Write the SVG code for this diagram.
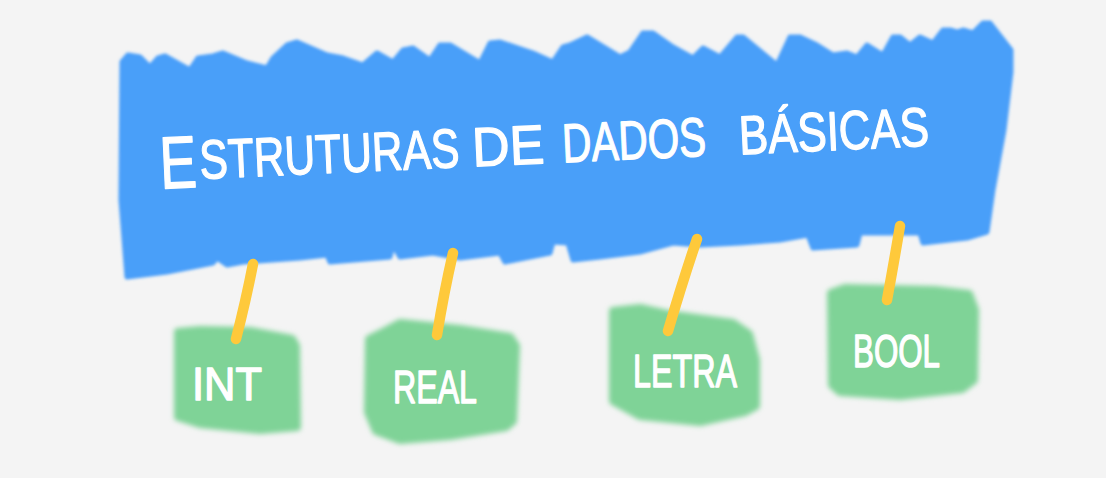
<svg xmlns="http://www.w3.org/2000/svg" width="1106" height="478" viewBox="0 0 1106 478">
<defs>
<filter id="soft" x="-5%" y="-5%" width="110%" height="110%"><feGaussianBlur stdDeviation="1.8"/></filter>
<filter id="softg" x="-10%" y="-10%" width="120%" height="120%"><feGaussianBlur stdDeviation="2.4"/></filter>
<filter id="soft2" x="-20%" y="-10%" width="140%" height="120%"><feGaussianBlur stdDeviation="0.6"/></filter>
</defs>
<style>
.blue{fill:#4a9ff9;stroke:#4a9ff9;stroke-width:5;stroke-linejoin:round}
.green{fill:#7fd397;stroke:#7fd397;stroke-width:8;stroke-linejoin:round}
.conn{fill:none;stroke:#fec93b;stroke-width:10.5;stroke-linecap:round}
.title{font-family:"Liberation Sans",Arial,sans-serif;font-size:55px;fill:#ffffff;stroke:#ffffff;stroke-width:1.3;stroke-linejoin:round}
.label{font-family:"Liberation Sans",Arial,sans-serif;font-size:46px;fill:#ffffff;stroke:#ffffff;stroke-width:1.4;stroke-linejoin:round}
</style>
<rect width="1106" height="478" fill="#f4f4f4"/>

<g id="title-node">
<path class="blue" filter="url(#soft)" d="M122,62 L128,55 L140,57 L150,67 L158,58 L165,56 L190,70 L198,58 L213,56 L223,53 L247,63 L267,68 L273,58 L287,45 L297,42 L327,55 L343,58 L363,65 L377,53 L393,62 L403,50 L413,48 L430,60 L440,45 L450,45 L480,63 L490,43 L500,42 L533,53 L553,62 L563,47 L570,45 L587,37 L620,57 L630,52 L643,33 L653,33 L673,47 L693,58 L703,48 L720,57 L737,37 L743,37 L777,65 L790,37 L800,37 L817,45 L833,55 L847,53 L857,57 L867,45 L883,55 L893,37 L900,37 L910,45 L920,37 L933,43 L943,30 L950,30 L957,32 L963,30 L973,33 L983,23 L990,23 L1011,50 L1011,72 L1004,130 L993,190 L987,232 L967,238 L923,243 L920,233 L860,233 L857,245 L813,248 L808,235 L780,240 L740,243 L700,245 L673,243 L640,252 L600,257 L573,260 L568,243 L553,242 L550,253 L505,262 L500,253 L460,258 L433,253 L400,257 L393,245 L390,257 L330,262 L327,255 L300,258 L243,262 L227,265 L217,258 L213,263 L167,272 L127,277 L121,200 Z"/>
<text class="title" transform="rotate(-2.6 550 163)"><tspan x="160" y="171" font-size="74" textLength="37" lengthAdjust="spacingAndGlyphs">E</tspan><tspan x="200" y="163" textLength="260" lengthAdjust="spacingAndGlyphs">STRUTURAS</tspan> <tspan x="473" y="163" textLength="72" lengthAdjust="spacingAndGlyphs">DE</tspan> <tspan x="563" y="163" textLength="144" lengthAdjust="spacingAndGlyphs">DADOS</tspan> <tspan x="740" y="163" textLength="190" lengthAdjust="spacingAndGlyphs">BÁSICAS</tspan></text>
</g>

<g id="node-int">
<path class="green" filter="url(#softg)" d="M178,332 L200,330 L250,331 L292,339 L296,346 L297,427 L260,430 L200,424 L178,417 Z"/>
<text class="label" x="192" y="400" textLength="70" lengthAdjust="spacingAndGlyphs">INT</text>
</g>

<g id="node-real">
<path class="green" filter="url(#softg)" d="M369,339 L385,331 L400,323 L460,329 L510,337 L516,346 L513,421 L506,427 L450,436 L400,440 L376,431 L368,412 Z"/>
<text class="label" x="393" y="403" textLength="84" lengthAdjust="spacingAndGlyphs">REAL</text>
</g>

<g id="node-letra">
<path class="green" filter="url(#softg)" d="M613,311 L640,308 L667,314 L733,323 L749,334 L756,360 L756,406 L745,412 L700,422 L640,416 L613,401 Z"/>
<text class="label" x="633" y="387" textLength="104" lengthAdjust="spacingAndGlyphs">LETRA</text>
</g>

<g id="node-bool">
<path class="green" filter="url(#softg)" d="M831,293 L845,288 L935,290 L969,294 L975,310 L974,380 L962,389 L900,396 L840,392 L832,385 Z"/>
<text class="label" x="853" y="367" textLength="87" lengthAdjust="spacingAndGlyphs">BOOL</text>
</g>

<g id="connectors" filter="url(#soft2)">
<path class="conn" d="M253,264 Q246,300 236,339"/>
<path class="conn" d="M453,253 Q444,292 437,335"/>
<path class="conn" d="M697,239 Q683,280 668,331"/>
<path class="conn" d="M900,226 Q894,262 887,300"/>
</g>
</svg>
